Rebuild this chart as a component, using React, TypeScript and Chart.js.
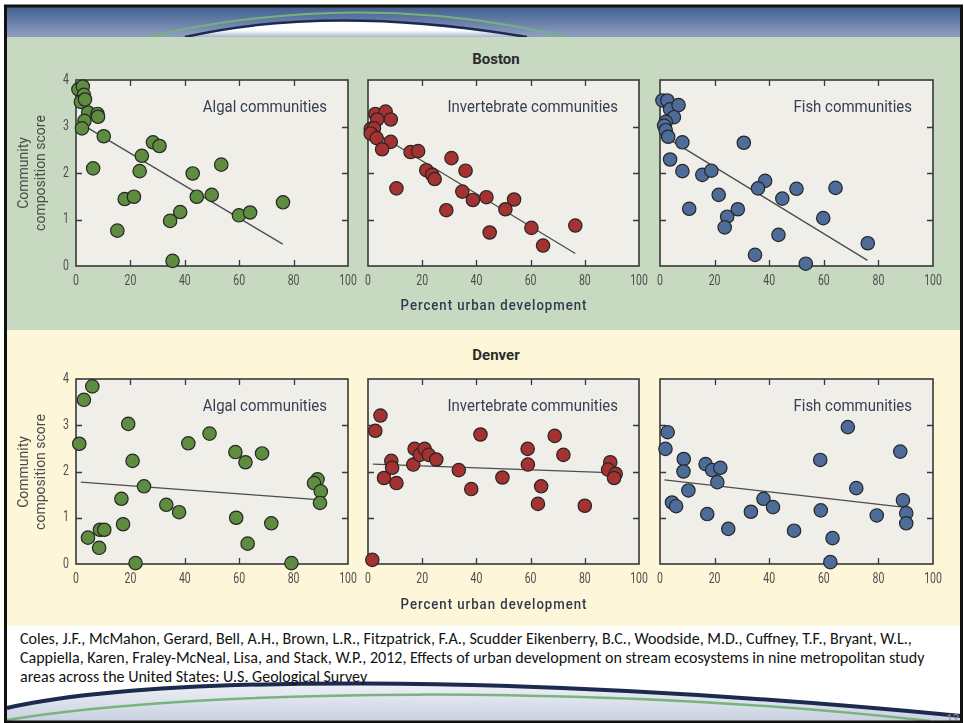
import React, { useEffect, useRef } from "react";
import { Chart, registerables } from "chart.js";

Chart.register(...registerables);

const SANS = "Roboto, 'Liberation Sans', sans-serif";
const BODY = "Carlito, Lato, 'Open Sans', sans-serif";

// ---- axis ticks ----
const xTickValues = [0, 20, 40, 60, 80, 100];
const yTickValues = [0, 1, 2, 3, 4];

// ---- Boston ----
const bostonAlgalX = [0.9, 2.5, 2.9, 1.8, 3.3, 4.5, 7.9, 8.1, 3.1, 2.2, 10.2, 6.3, 28.3, 30.7, 24.2, 23.4, 42.9, 53.4, 17.9, 21.3, 44.4, 49.9, 38.3, 34.6, 59.9, 64.0, 76.1, 15.2, 35.5];
const bostonAlgalY = [3.8, 3.86, 3.68, 3.53, 3.58, 3.3, 3.27, 3.21, 3.12, 2.96, 2.79, 2.1, 2.66, 2.58, 2.37, 2.04, 1.99, 2.18, 1.44, 1.49, 1.49, 1.53, 1.16, 0.97, 1.09, 1.15, 1.37, 0.76, 0.11];
const bostonAlgalTrendX = [2, 76];
const bostonAlgalTrendY = [3.05, 0.47];

const bostonInvertX = [2.7, 6.5, 8.4, 3.4, 1.0, 2.2, 1.0, 3.2, 8.4, 5.2, 15.7, 18.5, 30.8, 36.0, 21.5, 23.7, 24.6, 10.5, 34.8, 38.7, 43.7, 53.9, 50.7, 28.9, 60.3, 76.5, 44.9, 64.6];
const bostonInvertY = [3.27, 3.32, 3.15, 3.15, 2.95, 2.96, 2.85, 2.75, 2.67, 2.51, 2.45, 2.47, 2.32, 2.05, 2.06, 1.96, 1.87, 1.67, 1.6, 1.42, 1.48, 1.43, 1.22, 1.2, 0.82, 0.87, 0.72, 0.44];
const bostonInvertTrendX = [1, 76.5];
const bostonInvertTrendY = [2.93, 0.27];

const bostonFishX = [0.9, 2.7, 3.7, 6.8, 5.1, 2.1, 1.5, 2.1, 3.0, 8.2, 30.7, 3.7, 8.2, 15.5, 18.8, 38.5, 35.9, 50.0, 64.3, 44.8, 21.5, 10.7, 28.5, 24.6, 23.7, 59.8, 43.4, 76.1, 34.8, 53.4];
const bostonFishY = [3.56, 3.56, 3.37, 3.46, 3.2, 3.1, 3.02, 2.92, 2.78, 2.66, 2.65, 2.29, 2.04, 1.96, 2.05, 1.83, 1.67, 1.66, 1.68, 1.45, 1.53, 1.23, 1.22, 1.06, 0.83, 1.03, 0.67, 0.49, 0.24, 0.05];
const bostonFishTrendX = [3, 76];
const bostonFishTrendY = [2.74, 0.12];

// ---- Denver ----
const denverAlgalX = [1.2, 2.9, 6.0, 4.4, 8.5, 8.8, 10.4, 16.7, 17.3, 19.2, 20.8, 21.9, 25.0, 33.2, 37.9, 41.3, 49.1, 58.6, 62.3, 68.4, 58.9, 63.1, 71.8, 79.2, 88.8, 87.5, 90.0, 89.7];
const denverAlgalY = [2.6, 3.55, 3.84, 0.57, 0.35, 0.74, 0.74, 1.41, 0.86, 3.03, 2.23, 0.02, 1.68, 1.28, 1.12, 2.61, 2.82, 2.42, 2.2, 2.39, 1.0, 0.44, 0.88, 0.02, 1.83, 1.75, 1.57, 1.32];
const denverAlgalTrendX = [1.8, 88.8];
const denverAlgalTrendY = [1.77, 1.39];

const denverInvertX = [1.6, 2.7, 4.6, 5.9, 8.6, 8.9, 10.5, 16.7, 17.2, 19.1, 20.9, 22.4, 25.2, 33.5, 38.1, 41.5, 49.6, 58.9, 59.0, 63.9, 62.7, 68.9, 72.1, 80.0, 89.4, 88.6, 91.4, 90.8];
const denverInvertY = [0.09, 2.88, 3.21, 1.86, 2.23, 2.08, 1.75, 2.15, 2.49, 2.36, 2.49, 2.36, 2.26, 2.03, 1.62, 2.8, 1.87, 2.49, 2.15, 1.68, 1.3, 2.77, 2.36, 1.26, 2.2, 2.04, 1.95, 1.86];
const denverInvertTrendX = [1.8, 91.4];
const denverInvertTrendY = [2.16, 1.97];

const denverFishX = [2.8, 2.0, 4.4, 5.9, 8.7, 8.6, 10.4, 16.7, 19.1, 22.1, 21.0, 17.3, 25.0, 33.3, 37.9, 41.4, 49.1, 58.7, 58.9, 63.2, 62.4, 68.8, 71.9, 79.4, 88.0, 89.0, 90.2, 90.2];
const denverFishY = [2.85, 2.49, 1.33, 1.25, 2.27, 2.0, 1.59, 2.16, 2.03, 2.08, 1.77, 1.08, 0.76, 1.13, 1.41, 1.23, 0.72, 2.25, 1.16, 0.56, 0.04, 2.96, 1.64, 1.05, 2.43, 1.38, 1.1, 0.88];
const denverFishTrendX = [1.6, 89.0];
const denverFishTrendY = [1.82, 1.23];

const ALGAL = "#5e8d3f";
const INVERT = "#a33231";
const FISH = "#4d6c9a";

const PAD_L = 30;
const PAD_T = 8;
const PAD_R = 12;
const PAD_B = 26;

// Narrow lettering: draw text squeezed horizontally around its anchor.
function condensedText(ctx: CanvasRenderingContext2D, text: string, x: number, y: number, align: CanvasTextAlign, sx: number) {
  ctx.save();
  ctx.translate(x, y);
  ctx.scale(sx, 1);
  ctx.textAlign = align;
  ctx.fillText(text, 0, 0);
  ctx.restore();
}

// Draws the plot background, the frame with inward ticks, tick labels and the panel caption.
const panelFrame = {
  id: "panelFrame",
  beforeDraw(chart: any) {
    const { ctx, chartArea: a } = chart;
    ctx.save();
    ctx.fillStyle = "#efeee8";
    ctx.fillRect(a.left, a.top, a.right - a.left, a.bottom - a.top);
    ctx.restore();
  },
  beforeDatasetsDraw(chart: any, _args: any, opts: any) {
    const { ctx, chartArea: a, scales } = chart;
    const xs = scales.x;
    const ys = scales.y;
    ctx.save();
    ctx.strokeStyle = "#383838";
    ctx.lineWidth = 1.6;
    ctx.strokeRect(a.left, a.top, a.right - a.left, a.bottom - a.top);
    ctx.lineWidth = 1.3;
    const t = 6;
    ctx.beginPath();
    xs.ticks.forEach((tk: any) => {
      if (tk.value <= xs.min || tk.value >= xs.max) return;
      const px = Math.round(xs.getPixelForValue(tk.value)) + 0.5;
      ctx.moveTo(px, a.top);
      ctx.lineTo(px, a.top + t);
      ctx.moveTo(px, a.bottom);
      ctx.lineTo(px, a.bottom - t);
    });
    ys.ticks.forEach((tk: any) => {
      if (tk.value <= ys.min || tk.value >= ys.max) return;
      const py = Math.round(ys.getPixelForValue(tk.value)) + 0.5;
      ctx.moveTo(a.left, py);
      ctx.lineTo(a.left + t, py);
      ctx.moveTo(a.right, py);
      ctx.lineTo(a.right - t, py);
    });
    ctx.stroke();

    // tick labels
    ctx.fillStyle = "#4d4d4d";
    ctx.font = `14px ${SANS}`;
    ctx.textBaseline = "middle";
    xs.ticks.forEach((tk: any) => {
      condensedText(ctx, String(tk.value), xs.getPixelForValue(tk.value), a.bottom + 15, "center", 0.75);
    });
    if (opts.showY) {
      ys.ticks.forEach((tk: any) => {
        condensedText(ctx, String(tk.value), a.left - 7, ys.getPixelForValue(tk.value), "right", 0.75);
      });
    }

    // caption
    ctx.fillStyle = "#363f52";
    ctx.font = `17px ${SANS}`;
    condensedText(ctx, opts.label, a.right - 21, a.top + 28, "right", 0.88);
    ctx.restore();
  },
};

type PanelProps = {
  xs: number[];
  ys: number[];
  trendX: number[];
  trendY: number[];
  color: string;
  label: string;
  showY: boolean;
  left: number;
  top: number;
  width: number;
  height: number;
};

function Panel(p: PanelProps) {
  const ref = useRef<HTMLCanvasElement>(null);
  const cw = p.width + PAD_L + PAD_R;
  const ch = p.height + PAD_T + PAD_B;

  useEffect(() => {
    if (!ref.current) return;
    const points = p.xs.map((x, i) => ({ x, y: p.ys[i] }));
    const trend = p.trendX.map((x, i) => ({ x, y: p.trendY[i] }));
    const chart = new Chart(ref.current, {
      type: "scatter",
      data: {
        datasets: [
          {
            data: points,
            backgroundColor: p.color,
            borderColor: "#262626",
            borderWidth: 1.2,
            pointRadius: 6.7,
            order: 1,
            clip: false,
          } as any,
          {
            data: trend,
            showLine: true,
            borderColor: "#4d4d4d",
            borderWidth: 1.3,
            pointRadius: 0,
            order: 2,
            clip: false,
          } as any,
        ],
      },
      options: {
        responsive: false,
        animation: false,
        events: [],
        layout: { padding: { top: PAD_T, right: PAD_R, left: 0, bottom: 0 } },
        plugins: {
          legend: { display: false },
          tooltip: { enabled: false },
          panelFrame: { label: p.label, showY: p.showY },
        } as any,
        scales: {
          x: {
            type: "linear",
            min: xTickValues[0],
            max: xTickValues[xTickValues.length - 1],
            afterBuildTicks: (s: any) => {
              s.ticks = xTickValues.map((v) => ({ value: v }));
            },
            ticks: { display: false },
            grid: { display: false, drawTicks: false },
            border: { display: false },
            afterFit: (s: any) => {
              s.height = PAD_B;
            },
          },
          y: {
            type: "linear",
            min: yTickValues[0],
            max: yTickValues[yTickValues.length - 1],
            afterBuildTicks: (s: any) => {
              s.ticks = yTickValues.map((v) => ({ value: v }));
            },
            ticks: { display: false },
            grid: { display: false, drawTicks: false },
            border: { display: false },
            afterFit: (s: any) => {
              s.width = PAD_L;
            },
          },
        },
      } as any,
      plugins: [panelFrame],
    });
    return () => chart.destroy();
  }, []);

  return (
    <canvas
      ref={ref}
      width={cw}
      height={ch}
      style={{ position: "absolute", left: p.left - PAD_L, top: p.top - PAD_T, width: cw, height: ch }}
    />
  );
}

const abs = (s: React.CSSProperties): React.CSSProperties => ({ position: "absolute", ...s });

function YTitle({ cx, cy }: { cx: number; cy: number }) {
  return (
    <div
      style={abs({
        left: cx - 93,
        top: cy - 17,
        width: 186,
        height: 34,
        transform: "rotate(-90deg)",
        textAlign: "center",
        font: `14px/17px ${SANS}`,
        color: "#4a4a4a",
        whiteSpace: "nowrap",
      })}
    >
      Community
      <br />
      composition score
    </div>
  );
}

function XTitle({ cx, cy }: { cx: number; cy: number }) {
  return (
    <div
      style={abs({
        left: cx - 150,
        top: cy - 10,
        width: 300,
        height: 20,
        textAlign: "center",
        font: `500 15px/20px ${SANS}`,
        letterSpacing: "1.1px",
        color: "#2f3b4c",
        whiteSpace: "nowrap",
        transform: "scaleX(0.88)",
      })}
    >
      Percent urban development
    </div>
  );
}

function CityTitle({ text, cy }: { text: string; cy: number }) {
  return (
    <div
      style={abs({
        left: 396,
        top: cy - 10,
        width: 200,
        height: 20,
        textAlign: "center",
        font: `bold 15px/20px ${SANS}`,
        color: "#2b2b2b",
      })}
    >
      {text}
    </div>
  );
}

function SlideBackground() {
  return (
    <svg width={964} height={723} style={abs({ left: 0, top: 0 })}>
      <defs>
        <linearGradient id="hdr" x1="0" y1="0" x2="0" y2="1">
          <stop offset="0" stopColor="#42608e" />
          <stop offset="1" stopColor="#909ec3" />
        </linearGradient>
        <linearGradient id="ftr" x1="0" y1="0" x2="0" y2="1">
          <stop offset="0" stopColor="#eef1f6" />
          <stop offset="1" stopColor="#c9d1e1" />
        </linearGradient>
        <linearGradient id="swoosh" x1="0" y1="0" x2="0" y2="1">
          <stop offset="0.6" stopColor="#ffffff" />
          <stop offset="1" stopColor="#a9b3cf" />
        </linearGradient>
      </defs>
      <rect x={0} y={0} width={964} height={723} fill="#ffffff" />
      {/* header strip */}
      <rect x={7} y={7} width={954} height={30} fill="url(#hdr)" />
      <path d="M185,37 Q330,4 527,37 Z" fill="url(#swoosh)" />
      <path d="M185,37 Q330,4 527,37" fill="none" stroke="#1c2a4f" strokeWidth={2.5} />
      <path d="M147,37 Q360,-12 567,37" fill="none" stroke="#74b27c" strokeWidth={2} />
      {/* city bands */}
      <rect x={7} y={37} width={954} height={293} fill="#c8d9c2" />
      <rect x={7} y={330} width={954} height={296} fill="#fef6d9" />
      {/* footer swoosh */}
      <path d="M7,708 C150,676 500,672 961,716 L961,721 L7,721 Z" fill="url(#ftr)" />
      <path d="M7,708 C150,676 500,672 961,716" fill="none" stroke="#1b2a4e" strokeWidth={4} />
      <path d="M7,720 C200,688 600,684 930,721" fill="none" stroke="#79b47f" strokeWidth={2.5} />
    </svg>
  );
}

function SlideFrame() {
  return (
    <svg width={964} height={723} style={abs({ left: 0, top: 0, pointerEvents: "none" })}>
      <rect x={5.5} y={6} width={956} height={716} fill="none" stroke="#111111" strokeWidth={3} />
    </svg>
  );
}

export default function App() {
  return (
    <div style={abs({ left: 0, top: 0, width: 964, height: 723, overflow: "hidden", background: "#fff" })}>
      <SlideBackground />

      <CityTitle text="Boston" cy={59} />
      <Panel xs={bostonAlgalX} ys={bostonAlgalY} trendX={bostonAlgalTrendX} trendY={bostonAlgalTrendY} color={ALGAL} label="Algal communities" showY left={76} top={80} width={272} height={186} />
      <Panel xs={bostonInvertX} ys={bostonInvertY} trendX={bostonInvertTrendX} trendY={bostonInvertTrendY} color={INVERT} label="Invertebrate communities" showY={false} left={368} top={80} width={271} height={186} />
      <Panel xs={bostonFishX} ys={bostonFishY} trendX={bostonFishTrendX} trendY={bostonFishTrendY} color={FISH} label="Fish communities" showY={false} left={660} top={80} width={273} height={186} />
      <YTitle cx={32} cy={173} />
      <XTitle cx={494} cy={305} />

      <CityTitle text="Denver" cy={355} />
      <Panel xs={denverAlgalX} ys={denverAlgalY} trendX={denverAlgalTrendX} trendY={denverAlgalTrendY} color={ALGAL} label="Algal communities" showY left={76} top={379} width={272} height={185} />
      <Panel xs={denverInvertX} ys={denverInvertY} trendX={denverInvertTrendX} trendY={denverInvertTrendY} color={INVERT} label="Invertebrate communities" showY={false} left={368} top={379} width={271} height={185} />
      <Panel xs={denverFishX} ys={denverFishY} trendX={denverFishTrendX} trendY={denverFishTrendY} color={FISH} label="Fish communities" showY={false} left={660} top={379} width={273} height={185} />
      <YTitle cx={32} cy={472} />
      <XTitle cx={494} cy={604} />

      <div
        style={abs({
          left: 20,
          top: 629,
          width: 935,
          font: `16px/19px ${BODY}`,
          color: "#111",
          whiteSpace: "nowrap",
        })}
      >
        Coles, J.F., McMahon, Gerard, Bell, A.H., Brown, L.R., Fitzpatrick, F.A., Scudder Eikenberry, B.C., Woodside, M.D., Cuffney, T.F., Bryant, W.L.,
        <br />
        Cappiella, Karen, Fraley-McNeal, Lisa, and Stack, W.P., 2012, Effects of urban development on stream ecosystems in nine metropolitan study
        <br />
        areas across the United States: U.S. Geological Survey
      </div>
      <div style={abs({ left: 946, top: 710, font: `13px ${BODY}`, color: "#8a8a8a" })}>12</div>
      <SlideFrame />
    </div>
  );
}
